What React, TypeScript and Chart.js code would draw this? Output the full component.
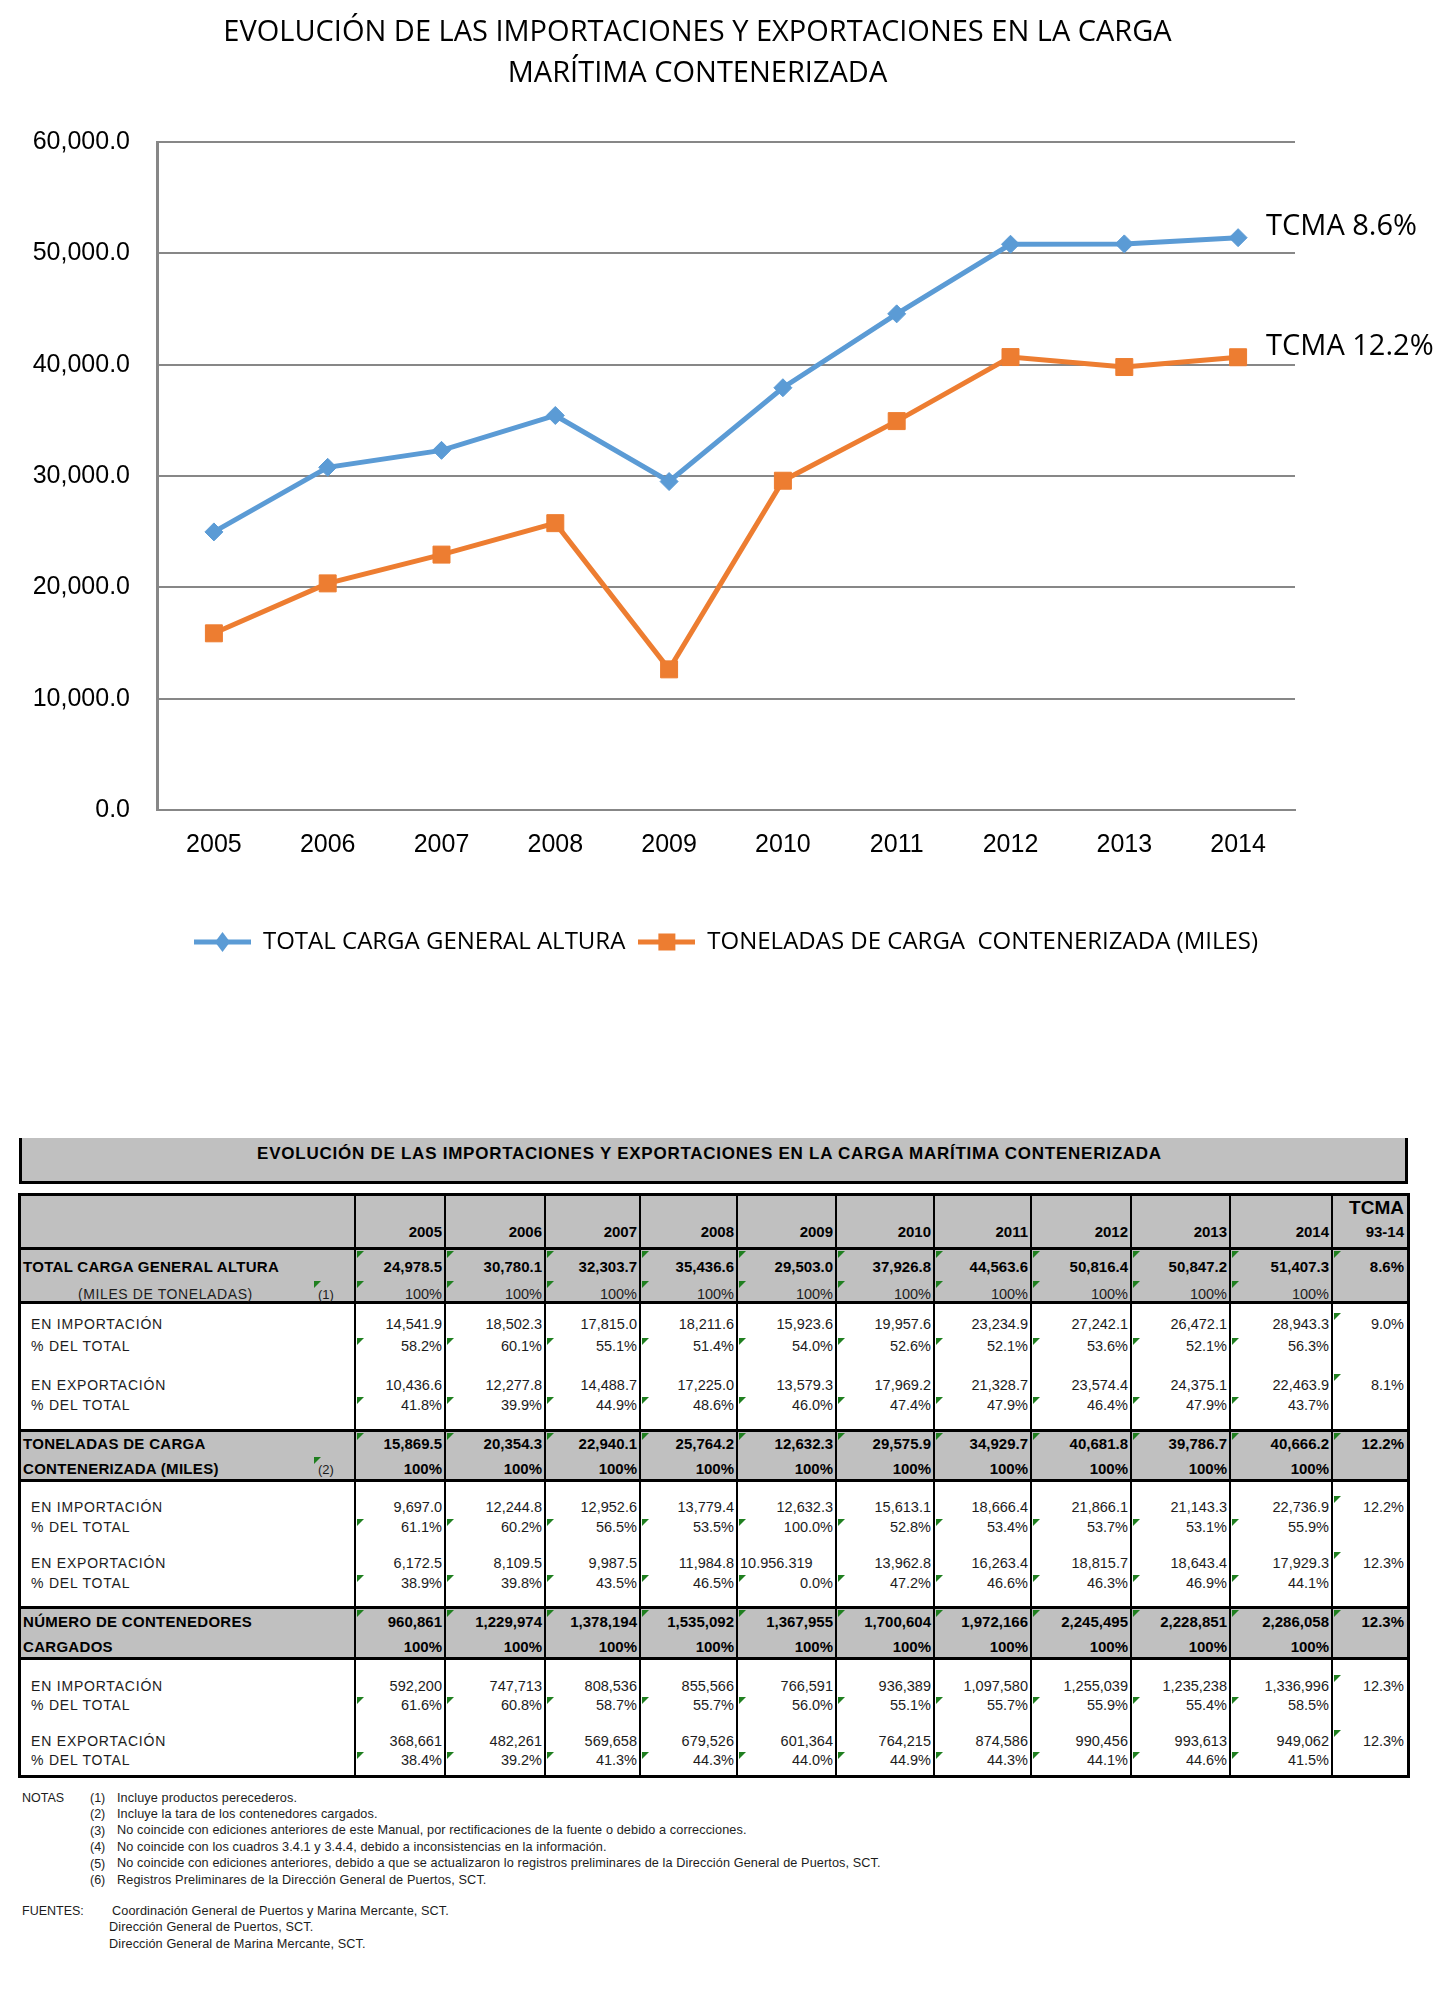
import React, { useEffect, useRef } from 'react';
import { Chart, registerables } from 'chart.js';

Chart.register(...registerables);

// ---------------- DATA ----------------
const years = ['2005', '2006', '2007', '2008', '2009', '2010', '2011', '2012', '2013', '2014'];
const totalCargaGeneral = [24978.5, 30780.1, 32303.7, 35436.6, 29503.0, 37926.8, 44563.6, 50816.4, 50847.2, 51407.3];
const toneladasContenerizada = [15869.5, 20354.3, 22940.1, 25764.2, 12632.3, 29575.9, 34929.7, 40681.8, 39786.7, 40666.2];
const seriesLabels = ['TOTAL CARGA GENERAL ALTURA', 'TONELADAS DE CARGA  CONTENERIZADA (MILES)'];
const tcmaLabels = ['TCMA 8.6%', 'TCMA 12.2%'];
const chartTitle = ['EVOLUCIÓN DE LAS IMPORTACIONES Y EXPORTACIONES EN LA CARGA', 'MARÍTIMA CONTENERIZADA'];
const yMin = 0;
const yMax = 60000;
const yStep = 10000;

const tableTitle = 'EVOLUCIÓN DE LAS IMPORTACIONES Y EXPORTACIONES EN LA CARGA MARÍTIMA CONTENERIZADA';
const pct100 = ['100%', '100%', '100%', '100%', '100%', '100%', '100%', '100%', '100%', '100%'];

const totalImp = ['14,541.9', '18,502.3', '17,815.0', '18,211.6', '15,923.6', '19,957.6', '23,234.9', '27,242.1', '26,472.1', '28,943.3'];
const totalImpPct = ['58.2%', '60.1%', '55.1%', '51.4%', '54.0%', '52.6%', '52.1%', '53.6%', '52.1%', '56.3%'];
const totalExp = ['10,436.6', '12,277.8', '14,488.7', '17,225.0', '13,579.3', '17,969.2', '21,328.7', '23,574.4', '24,375.1', '22,463.9'];
const totalExpPct = ['41.8%', '39.9%', '44.9%', '48.6%', '46.0%', '47.4%', '47.9%', '46.4%', '47.9%', '43.7%'];

const tonImp = ['9,697.0', '12,244.8', '12,952.6', '13,779.4', '12,632.3', '15,613.1', '18,666.4', '21,866.1', '21,143.3', '22,736.9'];
const tonImpPct = ['61.1%', '60.2%', '56.5%', '53.5%', '100.0%', '52.8%', '53.4%', '53.7%', '53.1%', '55.9%'];
const tonExp = ['6,172.5', '8,109.5', '9,987.5', '11,984.8', '10.956.319', '13,962.8', '16,263.4', '18,815.7', '18,643.4', '17,929.3'];
const tonExpPct = ['38.9%', '39.8%', '43.5%', '46.5%', '0.0%', '47.2%', '46.6%', '46.3%', '46.9%', '44.1%'];

const contTotal = ['960,861', '1,229,974', '1,378,194', '1,535,092', '1,367,955', '1,700,604', '1,972,166', '2,245,495', '2,228,851', '2,286,058'];
const contImp = ['592,200', '747,713', '808,536', '855,566', '766,591', '936,389', '1,097,580', '1,255,039', '1,235,238', '1,336,996'];
const contImpPct = ['61.6%', '60.8%', '58.7%', '55.7%', '56.0%', '55.1%', '55.7%', '55.9%', '55.4%', '58.5%'];
const contExp = ['368,661', '482,261', '569,658', '679,526', '601,364', '764,215', '874,586', '990,456', '993,613', '949,062'];
const contExpPct = ['38.4%', '39.2%', '41.3%', '44.3%', '44.0%', '44.9%', '44.3%', '44.1%', '44.6%', '41.5%'];

const tcmaCol = {
  total: '8.6%', totalImp: '9.0%', totalExp: '8.1%',
  ton: '12.2%', tonImp: '12.2%', tonExp: '12.3%',
  cont: '12.3%', contImp: '12.3%', contExp: '12.3%',
};

const notes = [
  ['NOTAS', '(1)', 'Incluye productos perecederos.'],
  ['', '(2)', 'Incluye la tara de los contenedores cargados.'],
  ['', '(3)', 'No coincide con ediciones anteriores de este Manual, por rectificaciones de la fuente o debido a correcciones.'],
  ['', '(4)', 'No coincide con los cuadros 3.4.1 y 3.4.4, debido a inconsistencias en la información.'],
  ['', '(5)', 'No coincide con ediciones anteriores, debido a que se actualizaron lo registros preliminares de la Dirección General de Puertos, SCT.'],
  ['', '(6)', 'Registros Preliminares de la Dirección General de Puertos, SCT.'],
];
const fuentes = [
  'Coordinación General de Puertos y Marina Mercante, SCT.',
  'Dirección General de Puertos, SCT.',
  'Dirección General de Marina Mercante, SCT.',
];

// ---------------- STYLE ----------------
const BLUE = '#5B9BD5';
const ORANGE = '#ED7D31';
const GRID = '#878787';
const OPEN = '"Open Sans", "Noto Sans", sans-serif';
const ARIAL = '"Liberation Sans", Arial, sans-serif';
const W = 1443;

const fmt1 = (v: number) => v.toLocaleString('en-US', { minimumFractionDigits: 1, maximumFractionDigits: 1 });

function makeIcon(color: string, kind: 'diamond' | 'square') {
  const c = document.createElement('canvas');
  c.width = 57;
  c.height = 22;
  const ctx = c.getContext('2d')!;
  ctx.strokeStyle = color;
  ctx.lineWidth = 5;
  ctx.beginPath();
  ctx.moveTo(0, 11);
  ctx.lineTo(57, 11);
  ctx.stroke();
  ctx.fillStyle = color;
  if (kind === 'diamond') {
    ctx.beginPath();
    ctx.moveTo(28.5, 1);
    ctx.lineTo(36, 11);
    ctx.lineTo(28.5, 21);
    ctx.lineTo(21, 11);
    ctx.closePath();
    ctx.fill();
  } else {
    ctx.fillRect(20, 2.5, 17, 17);
  }
  return c;
}

const tcmaPlugin = {
  id: 'tcmaLabels',
  afterDatasetsDraw(chart: any) {
    const ctx = chart.ctx;
    ctx.save();
    ctx.font = `29px ${OPEN}`;
    ctx.fillStyle = '#000';
    ctx.textAlign = 'left';
    ctx.textBaseline = 'middle';
    chart.data.datasets.forEach((_d: any, i: number) => {
      const meta = chart.getDatasetMeta(i);
      const pt = meta.data[meta.data.length - 1];
      if (pt) ctx.fillText(tcmaLabels[i], pt.x + 28, pt.y - 11);
    });
    ctx.restore();
  },
};

function LineChart() {
  const ref = useRef<HTMLCanvasElement | null>(null);
  useEffect(() => {
    const canvas = ref.current!;
    const icons = [makeIcon(BLUE, 'diamond'), makeIcon(ORANGE, 'square')];
    const chart = new Chart(canvas, {
      type: 'line',
      data: {
        labels: years,
        datasets: [
          {
            label: seriesLabels[0],
            data: totalCargaGeneral,
            borderColor: BLUE,
            backgroundColor: BLUE,
            borderWidth: 5,
            pointStyle: 'rectRot',
            pointRadius: 9,
            pointBackgroundColor: BLUE,
            pointBorderColor: BLUE,
            pointBorderWidth: 1,
            tension: 0,
            yAxisID: 'y',
          },
          {
            label: seriesLabels[1],
            data: toneladasContenerizada,
            borderColor: ORANGE,
            backgroundColor: ORANGE,
            borderWidth: 5,
            pointStyle: 'rect',
            pointRadius: 12,
            pointBackgroundColor: ORANGE,
            pointBorderColor: ORANGE,
            pointBorderWidth: 1,
            tension: 0,
            yAxisID: 'y',
          },
        ],
      },
      options: {
        animation: false,
        responsive: false,
        devicePixelRatio: 1,
        events: [],
        layout: { padding: { left: 0, right: 48, top: 0, bottom: 36 } },
        plugins: {
          tooltip: { enabled: false },
          title: {
            display: true,
            text: chartTitle,
            color: '#000',
            font: { family: OPEN, size: 29, weight: 'normal', lineHeight: 41 / 29 },
            padding: { top: 12, bottom: 48 },
          },
          legend: {
            display: true,
            position: 'bottom',
            fullSize: false,
            labels: {
              usePointStyle: true,
              pointStyleWidth: 57,
              padding: 13,
              color: '#000',
              font: { family: OPEN, size: 24 },
              generateLabels: (c: any) =>
                c.data.datasets.map((d: any, i: number) => ({
                  text: d.label,
                  pointStyle: icons[i],
                  fillStyle: d.borderColor,
                  strokeStyle: d.borderColor,
                  lineWidth: 0,
                  hidden: false,
                  datasetIndex: i,
                  fontColor: '#000',
                })),
            },
          },
        },
        scales: {
          x: {
            offset: true,
            grid: { display: false, drawTicks: false },
            border: { display: true, color: GRID, width: 2 },
            ticks: { color: '#000', font: { family: ARIAL, size: 25 }, padding: 20, maxRotation: 0, autoSkip: false },
            afterFit: (s: any) => { s.height = 107; },
          },
          y: {
            min: yMin,
            max: yMax,
            position: 'left',
            grid: { color: GRID, lineWidth: 2, drawTicks: false },
            border: { display: true, color: GRID, width: 3 },
            ticks: {
              stepSize: yStep,
              color: '#000',
              font: { family: ARIAL, size: 25 },
              padding: 27,
              callback: (v: any) => fmt1(Number(v)),
            },
            afterFit: (s: any) => { s.width = 157; },
          },
          // empty right-hand spacer that reserves room for the TCMA labels
          yRight: {
            type: 'linear',
            position: 'right',
            min: yMin,
            max: yMax,
            grid: { display: false, drawTicks: false },
            border: { display: false },
            ticks: { display: false },
            afterFit: (s: any) => { s.width = 100; },
          },
        },
      },
      plugins: [tcmaPlugin],
    } as any);
    return () => chart.destroy();
  }, []);
  return (
    <canvas
      ref={ref}
      width={W}
      height={1000}
      style={{ position: 'absolute', left: 0, top: 0, width: W, height: 1000 }}
    />
  );
}

type TxtProps = {
  x: number; y: number; align?: 'left' | 'right' | 'center'; size?: number; bold?: boolean;
  family?: string; color?: string; ls?: number; children: React.ReactNode;
};
function Txt({ x, y, align = 'left', size = 15, bold = false, family = ARIAL, color = '#1c1c1c', ls = 0, children }: TxtProps) {
  const lh = Math.round(size * 1.3);
  const style: React.CSSProperties = {
    position: 'absolute', top: y - lh / 2, lineHeight: lh + 'px', fontSize: size, fontFamily: family,
    fontWeight: bold ? 'bold' : 'normal', color, letterSpacing: ls, whiteSpace: 'nowrap',
  };
  if (align === 'right') style.right = W - x;
  else if (align === 'center') { style.left = x - 700; style.width = 1400; style.textAlign = 'center'; }
  else style.left = x;
  return <div style={style}>{children}</div>;
}

function Tri({ x, y }: { x: number; y: number }) {
  return (
    <div style={{
      position: 'absolute', left: x, top: y, width: 0, height: 0,
      borderTop: '7px solid #1F7F1F', borderRight: '7px solid transparent',
    }} />
  );
}

function Rect({ x, y, w, h, bg }: { x: number; y: number; w: number; h: number; bg: string }) {
  return <div style={{ position: 'absolute', left: x, top: y, width: w, height: h, background: bg }} />;
}

// table layout
const COLS = [19, 355, 445, 545, 640, 737, 836, 934, 1031, 1131, 1230, 1332, 1408];
const T_TOP = 1194;
const T_BOTTOM = 1776;
const HLINES = [1194, 1248, 1302, 1430, 1480, 1607, 1658, 1776];
const GRAY_BANDS = [[1194, 1302], [1430, 1480], [1607, 1658]];
const GRAY = '#C0C0C0';

function valueCells(vals: string[], y: number, bold: boolean, size: number) {
  return vals.map((v, i) => {
    const overflow = (v.match(/\./g) || []).length > 1;
    return overflow ? (
      <Txt key={'v' + y + i} x={COLS[i + 1] + 3} y={y} size={size} bold={bold}>{v}</Txt>
    ) : (
      <Txt key={'v' + y + i} x={COLS[i + 2] - 3} y={y} align="right" size={size} bold={bold} color={bold ? '#000' : '#1c1c1c'}>{v}</Txt>
    );
  });
}

function DataTable() {
  const els: React.ReactNode[] = [];
  // title box
  els.push(
    <div key="tbox" style={{
      position: 'absolute', left: COLS[0], top: 1138, width: COLS[12] - COLS[0], height: 46,
      background: GRAY, borderLeft: '3px solid #000', borderRight: '3px solid #000', borderBottom: '3px solid #000',
      boxSizing: 'border-box',
    }} />,
  );
  els.push(<Txt key="ttitle" x={(COLS[0] + COLS[12]) / 2 - 4} y={1154} align="center" size={17} bold color="#000" ls={0.75}>{tableTitle}</Txt>);

  // backgrounds
  GRAY_BANDS.forEach(([a, b], i) => els.push(<Rect key={'g' + i} x={COLS[0]} y={a} w={COLS[12] - COLS[0]} h={b - a} bg={GRAY} />));
  // horizontal lines
  HLINES.forEach((y, i) => els.push(<Rect key={'h' + i} x={COLS[0] - 1} y={y - 1.5} w={COLS[12] - COLS[0] + 3} h={3} bg="#000" />));
  // vertical lines
  COLS.forEach((x, i) => {
    const thick = i === 0 || i === COLS.length - 1;
    const w = thick ? 3 : 2;
    els.push(<Rect key={'vl' + i} x={x - w / 2} y={T_TOP} w={w} h={T_BOTTOM - T_TOP} bg="#000" />);
  });

  // header
  years.forEach((yr, i) => els.push(<Txt key={'yr' + i} x={COLS[i + 2] - 3} y={1232} align="right" size={15} bold color="#000">{yr}</Txt>));
  els.push(<Txt key="tcmaH" x={COLS[12] - 4} y={1207} align="right" size={19} bold color="#000">TCMA</Txt>);
  els.push(<Txt key="tcmaH2" x={COLS[12] - 4} y={1232} align="right" size={15} bold color="#000">93-14</Txt>);

  const tcmaX = COLS[12] - 4;

  // ---- TOTAL CARGA GENERAL ALTURA
  els.push(<Txt key="l1" x={23} y={1267} size={15} bold color="#000" ls={0.3}>TOTAL CARGA GENERAL ALTURA</Txt>);
  els.push(<Txt key="l2" x={78} y={1294} size={14} ls={0.6}>(MILES DE TONELADAS)</Txt>);
  els.push(<Txt key="l2n" x={318} y={1294} size={13}>(1)</Txt>);
  els.push(...valueCells(totalCargaGeneral.map(fmt1), 1267, true, 15));
  els.push(...valueCells(pct100, 1294, false, 14.5));
  els.push(<Txt key="tc1" x={tcmaX} y={1267} align="right" size={15} bold color="#000">{tcmaCol.total}</Txt>);
  for (let i = 1; i <= 11; i++) els.push(<Tri key={'tA' + i} x={COLS[i] + 2} y={1251} />);
  for (let i = 1; i <= 10; i++) els.push(<Tri key={'tB' + i} x={COLS[i] + 2} y={1281} />);
  els.push(<Tri key="tL1" x={314} y={1281} />);

  // white block helper
  const whiteBlock = (
    key: string, lines: number[], imp: string[], impPct: string[], exp: string[], expPct: string[], tImp: string, tExp: string,
  ) => {
    els.push(<Txt key={key + 'a'} x={31} y={lines[0]} size={14} ls={0.8}>EN IMPORTACIÓN</Txt>);
    els.push(<Txt key={key + 'b'} x={31} y={lines[1]} size={14} ls={0.8}>% DEL TOTAL</Txt>);
    els.push(<Txt key={key + 'c'} x={31} y={lines[2]} size={14} ls={0.8}>EN EXPORTACIÓN</Txt>);
    els.push(<Txt key={key + 'd'} x={31} y={lines[3]} size={14} ls={0.8}>% DEL TOTAL</Txt>);
    els.push(...valueCells(imp, lines[0], false, 14.5));
    els.push(...valueCells(impPct, lines[1], false, 14.5));
    els.push(...valueCells(exp, lines[2], false, 14.5));
    els.push(...valueCells(expPct, lines[3], false, 14.5));
    els.push(<Txt key={key + 't1'} x={tcmaX} y={lines[0]} align="right" size={14.5}>{tImp}</Txt>);
    els.push(<Txt key={key + 't2'} x={tcmaX} y={lines[2]} align="right" size={14.5}>{tExp}</Txt>);
    for (let i = 1; i <= 10; i++) {
      els.push(<Tri key={key + 'ta' + i} x={COLS[i] + 2} y={lines[1] - 8} />);
      els.push(<Tri key={key + 'tb' + i} x={COLS[i] + 2} y={lines[3] - 8} />);
    }
    els.push(<Tri key={key + 'tt1'} x={COLS[11] + 2} y={lines[0] - 11} />);
    els.push(<Tri key={key + 'tt2'} x={COLS[11] + 2} y={lines[2] - 11} />);
  };

  whiteBlock('w1', [1324, 1346, 1385, 1405], totalImp, totalImpPct, totalExp, totalExpPct, tcmaCol.totalImp, tcmaCol.totalExp);

  // ---- TONELADAS
  els.push(<Txt key="n1" x={23} y={1444} size={15} bold color="#000" ls={0.3}>TONELADAS DE CARGA</Txt>);
  els.push(<Txt key="n2" x={23} y={1469} size={15} bold color="#000" ls={0.3}>CONTENERIZADA (MILES)</Txt>);
  els.push(<Txt key="n2n" x={318} y={1469} size={13}>(2)</Txt>);
  els.push(...valueCells(toneladasContenerizada.map(fmt1), 1444, true, 15));
  els.push(...valueCells(pct100, 1469, true, 15));
  els.push(<Txt key="tc2" x={tcmaX} y={1444} align="right" size={15} bold color="#000">{tcmaCol.ton}</Txt>);
  for (let i = 1; i <= 11; i++) els.push(<Tri key={'nA' + i} x={COLS[i] + 2} y={1433} />);
  els.push(<Tri key="nL" x={314} y={1457} />);

  whiteBlock('w2', [1507, 1527, 1563, 1583], tonImp, tonImpPct, tonExp, tonExpPct, tcmaCol.tonImp, tcmaCol.tonExp);

  // ---- NUMERO DE CONTENEDORES
  els.push(<Txt key="c1" x={23} y={1622} size={15} bold color="#000" ls={0.3}>NÚMERO DE CONTENEDORES</Txt>);
  els.push(<Txt key="c2" x={23} y={1647} size={15} bold color="#000" ls={0.3}>CARGADOS</Txt>);
  els.push(...valueCells(contTotal, 1622, true, 15));
  els.push(...valueCells(pct100, 1647, true, 15));
  els.push(<Txt key="tc3" x={tcmaX} y={1622} align="right" size={15} bold color="#000">{tcmaCol.cont}</Txt>);
  for (let i = 1; i <= 11; i++) els.push(<Tri key={'cA' + i} x={COLS[i] + 2} y={1610} />);

  whiteBlock('w3', [1686, 1705, 1741, 1760], contImp, contImpPct, contExp, contExpPct, tcmaCol.contImp, tcmaCol.contExp);

  // notes
  notes.forEach((n, i) => {
    const y = 1798 + i * 16.4;
    if (n[0]) els.push(<Txt key={'nn' + i} x={22} y={y} size={12.5}>{n[0]}</Txt>);
    els.push(<Txt key={'nk' + i} x={90} y={y} size={12.5}>{n[1]}</Txt>);
    els.push(<Txt key={'nt' + i} x={117} y={y} size={12.7} ls={0.1}>{n[2]}</Txt>);
  });
  fuentes.forEach((f, i) => {
    const y = 1911 + i * 16.5;
    if (i === 0) els.push(<Txt key="fu" x={22} y={y} size={12.5}>FUENTES:</Txt>);
    els.push(<Txt key={'f' + i} x={i === 0 ? 112 : 109} y={y} size={12.7} ls={0.1}>{f}</Txt>);
  });

  return <>{els}</>;
}

export default function App() {
  return (
    <div style={{ position: 'absolute', left: 0, top: 0, width: W, height: 1994, background: '#fff', overflow: 'hidden' }}>
      <LineChart />
      <DataTable />
    </div>
  );
}
